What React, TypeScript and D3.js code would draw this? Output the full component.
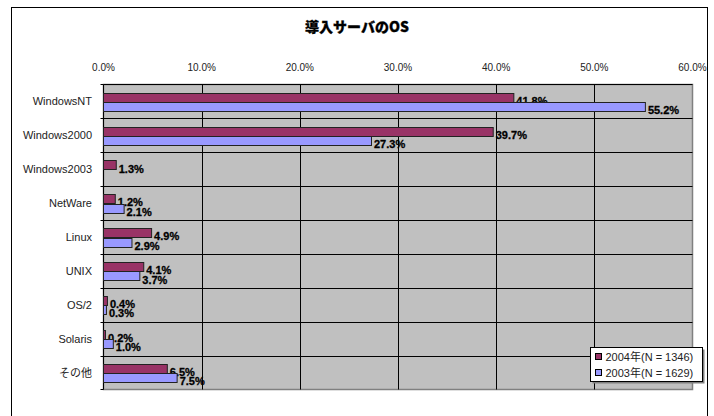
import { useEffect, useRef } from "react";
import * as d3 from "d3";

const categories = ["WindowsNT", "Windows2000", "Windows2003", "NetWare", "Linux", "UNIX", "OS/2", "Solaris", "その他"];
const values2004 = [41.8, 39.7, 1.3, 1.2, 4.9, 4.1, 0.4, 0.2, 6.5];
const values2003: (number | null)[] = [55.2, 27.3, null, 2.1, 2.9, 3.7, 0.3, 1.0, 7.5];
const seriesNames = ["2004年(N = 1346)", "2003年(N = 1629)"];
const seriesColors = ["#993366", "#9999FF"];
const xTicks = [0, 10, 20, 30, 40, 50, 60];

const W = 714;
const H = 416;
const FONT = "'Liberation Sans', Arial, 'Noto Sans CJK JP', sans-serif";

export default function App() {
  const svgRef = useRef<SVGSVGElement>(null);

  useEffect(() => {
    if (!svgRef.current) return;
    const svg = d3.select(svgRef.current);
    svg.selectAll("*").remove();

    // chart frame
    svg.append("rect").attr("width", W).attr("height", H).attr("fill", "#fff");
    svg
      .append("rect")
      .attr("x", 11.5)
      .attr("y", 7.5)
      .attr("width", 696)
      .attr("height", 420)
      .attr("fill", "#fff")
      .attr("stroke", "#000")
      .attr("stroke-width", 1);

    svg
      .append("text")
      .attr("x", 357)
      .attr("y", 32)
      .attr("text-anchor", "middle")
      .attr("font-family", "'Noto Sans CJK JP', sans-serif")
      .attr("font-weight", 900)
      .attr("font-size", "14px")
      .attr("stroke", "#000")
      .attr("stroke-width", 0.3)
      .text("導入サーバのOS");

    const plot = { left: 103.5, right: 692.5, top: 84.5, bottom: 389.5 };

    const x = d3.scaleLinear().domain([0, 60]).range([plot.left, plot.right]);
    const y = d3.scaleBand<string>().domain(categories).range([plot.top, plot.bottom]);
    const inner = d3
      .scaleBand<string>()
      .domain(["0", "1"])
      .range([y.bandwidth() * 0.24, y.bandwidth() * 0.79]);

    const g = svg.append("g");

    g.append("rect")
      .attr("x", plot.left)
      .attr("y", plot.top)
      .attr("width", plot.right - plot.left)
      .attr("height", plot.bottom - plot.top)
      .attr("fill", "#C0C0C0")
      .attr("stroke", "#808080")
      .attr("stroke-width", 1.5);

    // vertical grid
    g.selectAll("line.vgrid")
      .data(xTicks.slice(1, -1))
      .join("line")
      .attr("x1", (d) => Math.round(x(d)) + 0.5)
      .attr("x2", (d) => Math.round(x(d)) + 0.5)
      .attr("y1", plot.top)
      .attr("y2", plot.bottom)
      .attr("stroke", "#000")
      .attr("stroke-width", 1);

    // horizontal grid at category boundaries
    const bounds = categories.slice(1).map((c) => Math.round(y(c)!) + 0.5);
    g.selectAll("line.hgrid")
      .data(bounds)
      .join("line")
      .attr("x1", plot.left - 3)
      .attr("x2", plot.right)
      .attr("y1", (d) => d)
      .attr("y2", (d) => d)
      .attr("stroke", "#000")
      .attr("stroke-width", 1);

    // top axis line
    g.append("line")
      .attr("x1", plot.left)
      .attr("x2", plot.right)
      .attr("y1", plot.top)
      .attr("y2", plot.top)
      .attr("stroke", "#000");
    // left axis line
    g.append("line")
      .attr("x1", plot.left)
      .attr("x2", plot.left)
      .attr("y1", plot.top)
      .attr("y2", plot.bottom)
      .attr("stroke", "#000");
    g.selectAll("line.ltick")
      .data([plot.top, plot.bottom])
      .join("line")
      .attr("x1", plot.left - 3)
      .attr("x2", plot.left)
      .attr("y1", (d) => d)
      .attr("y2", (d) => d)
      .attr("stroke", "#000");

    // x tick labels
    g.selectAll("text.xt")
      .data(xTicks)
      .join("text")
      .attr("x", (d) => x(d))
      .attr("y", 71)
      .attr("text-anchor", "middle")
      .attr("font-family", FONT)
      .attr("font-size", "10px")
      .attr("fill", "#222")
      .text((d) => `${d.toFixed(1)}%`);

    // category labels
    g.selectAll("text.cat")
      .data(categories)
      .join("text")
      .attr("x", 92)
      .attr("y", (d) => y(d)! + y.bandwidth() / 2 + 4)
      .attr("text-anchor", "end")
      .attr("font-family", FONT)
      .attr("font-size", "11px")
      .attr("fill", "#222")
      .text((d) => d);

    const series = [values2004, values2003];
    series.forEach((vals, si) => {
      const rows = categories
        .map((c, i) => ({ c, v: vals[i] }))
        .filter((d) => d.v != null) as { c: string; v: number }[];
      const sg = g.append("g");
      sg.selectAll("rect")
        .data(rows)
        .join("rect")
        .attr("x", plot.left)
        .attr("y", (d) => Math.round(y(d.c)! + inner(String(si))!) + 0.5)
        .attr("width", (d) => x(d.v) - plot.left)
        .attr("height", Math.round(inner.bandwidth()))
        .attr("fill", seriesColors[si])
        .attr("stroke", "#222")
        .attr("stroke-width", 1);
      sg.selectAll("text")
        .data(rows)
        .join("text")
        .attr("x", (d) => x(d.v) + 2.5)
        .attr("y", (d) => y(d.c)! + inner(String(si))! + inner.bandwidth() / 2 + 7.5)
        .attr("font-family", FONT)
        .attr("font-weight", "bold")
        .attr("font-size", "11px")
        .attr("fill", "#000")
        .attr("stroke", "#000")
        .attr("stroke-width", 0.3)
        .text((d) => `${d.v.toFixed(1)}%`);
    });

    // legend
    const lg = svg.append("g").attr("transform", "translate(590.5,347.5)");
    lg.append("rect")
      .attr("x", 2)
      .attr("y", 2)
      .attr("width", 112)
      .attr("height", 34)
      .attr("fill", "#808080");
    lg.append("rect")
      .attr("width", 112)
      .attr("height", 34)
      .attr("fill", "#fff")
      .attr("stroke", "#000");
    seriesNames.forEach((name, i) => {
      lg.append("rect")
        .attr("x", 5)
        .attr("y", 6 + i * 16)
        .attr("width", 6)
        .attr("height", 6)
        .attr("fill", seriesColors[i])
        .attr("stroke", "#000");
      lg.append("text")
        .attr("x", 15)
        .attr("y", 13.5 + i * 16)
        .attr("font-family", FONT)
        .attr("font-size", "11px")
        .attr("fill", "#222")
        .text(name);
    });
  }, []);

  return (
    <svg
      ref={svgRef}
      width={W}
      height={H}
      style={{ position: "absolute", left: 0, top: 0, display: "block" }}
    />
  );
}
